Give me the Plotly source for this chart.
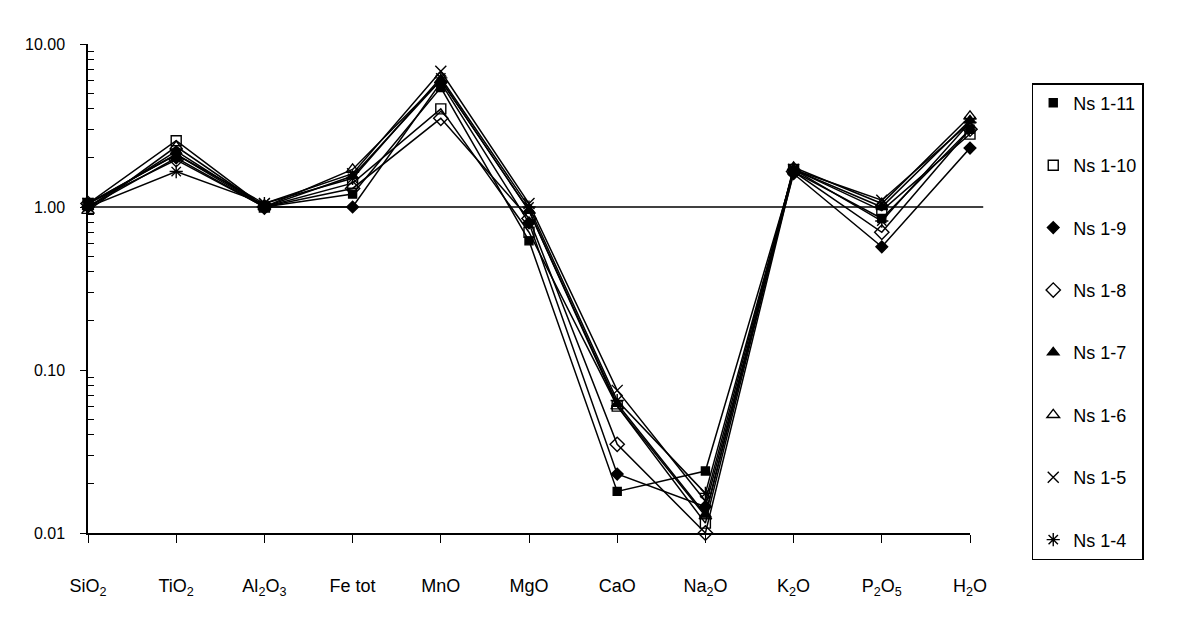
import plotly.graph_objects as go

# oxides on the x axis
categories = ["SiO<sub>2</sub>", "TiO<sub>2</sub>", "Al<sub>2</sub>O<sub>3</sub>", "Fe tot", "MnO",
              "MgO", "CaO", "Na<sub>2</sub>O", "K<sub>2</sub>O", "P<sub>2</sub>O<sub>5</sub>", "H<sub>2</sub>O"]

# normalised values
ns_1_11 = [1.05, 2.10, 1.00, 1.20, 5.4, 0.62, 0.018, 0.024, 1.65, 0.85, 3.0]
ns_1_10 = [1.05, 2.55, 1.00, 1.40, 4.0, 0.70, 0.060, 0.0115, 1.70, 0.95, 2.8]
ns_1_9 = [1.00, 2.00, 1.00, 1.00, 5.8, 0.80, 0.023, 0.0145, 1.60, 0.57, 2.3]
ns_1_8 = [1.05, 1.95, 1.00, 1.30, 3.5, 0.85, 0.035, 0.0100, 1.65, 0.70, 3.0]
ns_1_7 = [1.00, 2.20, 1.00, 1.55, 6.0, 0.95, 0.062, 0.0130, 1.70, 1.00, 3.4]
ns_1_6 = [0.95, 2.35, 1.00, 1.70, 6.0, 0.95, 0.060, 0.0127, 1.75, 1.05, 3.6]
ns_1_5 = [1.05, 2.10, 1.05, 1.60, 6.8, 1.05, 0.075, 0.0157, 1.70, 1.10, 3.3]
ns_1_4 = [1.00, 1.65, 1.05, 1.50, 6.2, 1.00, 0.065, 0.0175, 1.70, 0.82, 3.3]

series = [
    ("Ns 1-11", ns_1_11, "square", 8),
    ("Ns 1-10", ns_1_10, "square-open", 10),
    ("Ns 1-9", ns_1_9, "diamond", 9),
    ("Ns 1-8", ns_1_8, "diamond-open", 11),
    ("Ns 1-7", ns_1_7, "triangle-up", 10),
    ("Ns 1-6", ns_1_6, "triangle-up-open", 11),
    ("Ns 1-5", ns_1_5, "x-thin-open", 11),
    ("Ns 1-4", ns_1_4, "asterisk-open", 11),
]

major_ticks = [0.01, 0.1, 1, 10]
major_text = ["0.01", "0.10", "1.00", "10.00"]
# minor ticks 2..9 in each decade
minor_ticks = [m * d for d in (0.01, 0.1, 1) for m in range(2, 10)]

x_idx = list(range(len(categories)))
font_name = "Liberation Sans, Arial, sans-serif"

fig = go.Figure()

for name, values, symbol, size in series:
    # the line with markers
    fig.add_trace(go.Scatter(
        x=x_idx, y=values, mode="lines+markers", name=name,
        line=dict(color="black", width=1.5),
        marker=dict(symbol=symbol, size=size, color="black",
                    line=dict(color="black", width=1.4)),
        cliponaxis=False, showlegend=False,
    ))
    # legend entry with marker only
    fig.add_trace(go.Scatter(
        x=[None], y=[None], mode="markers", name=name, legendgroup=name,
        marker=dict(symbol=symbol, size=size, color="black",
                    line=dict(color="black", width=1.4)),
    ))

# reference line at 1.00
fig.add_shape(type="line", xref="paper", yref="y", x0=0, x1=1.015, y0=1, y1=1,
              line=dict(color="black", width=1.4))

fig.update_layout(
    width=1178, height=631,
    margin=dict(l=80, r=216, t=36, b=106),
    plot_bgcolor="white", paper_bgcolor="white",
    font=dict(family=font_name, size=16, color="black"),
    showlegend=True,
    legend=dict(
        x=1.07, y=0.92, xanchor="left", yanchor="top",
        bordercolor="black", borderwidth=1.5,
        font=dict(size=18), tracegroupgap=36,
        entrywidth=96,
    ),
    xaxis=dict(
        range=[0, 10], tickvals=x_idx, ticktext=categories,
        showline=True, linecolor="black", linewidth=1.5,
        ticks="outside", ticklen=8, tickcolor="black", tickwidth=1.4,
        ticklabelstandoff=28, showgrid=False, zeroline=False,
        tickfont=dict(size=18),
    ),
    yaxis=dict(
        type="log", range=[-2, 1],
        tickmode="array", tickvals=major_ticks, ticktext=major_text,
        showline=True, linecolor="black", linewidth=1.5,
        ticks="outside", ticklen=6, tickcolor="black", tickwidth=1.4,
        ticklabelstandoff=12, showgrid=False, zeroline=False,
        minor=dict(tickmode="array", tickvals=minor_ticks, ticks="inside", ticklen=6,
                   tickcolor="black", tickwidth=1.2, showgrid=False),
        tickfont=dict(size=16),
    ),
)

fig.write_html("out.html")
